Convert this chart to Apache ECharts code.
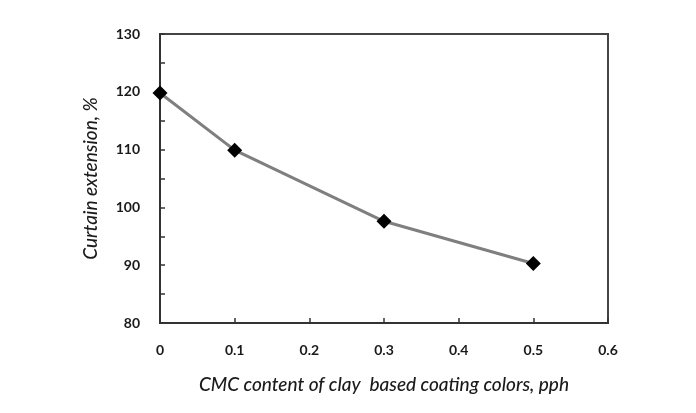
<!DOCTYPE html>
<html>
<head>
<meta charset="utf-8">
<script src="https://cdn.jsdelivr.net/npm/echarts@6/dist/echarts.min.js"></script>
<style>
  html, body { margin: 0; padding: 0; background: #fff; }
  #chart { width: 696px; height: 413px; }
</style>
</head>
<body>
<div id="chart"></div>
<script>
// CMC content (pph) vs curtain extension (%)
const cmcContent = [0, 0.1, 0.3, 0.5];
const curtainExtension = [119.8, 109.9, 97.6, 90.3];
const xTicks = [0, 0.1, 0.2, 0.3, 0.4, 0.5, 0.6];
const yTicks = [80, 90, 100, 110, 120, 130];

const chart = echarts.init(document.getElementById('chart'));

const labelFont = {
  fontFamily: 'Lato',
  fontWeight: 'bold',
  fontSize: 14,
  color: '#1a1a1a'
};
const titleFont = {
  fontFamily: 'Lato',
  fontStyle: 'italic',
  fontWeight: 500,
  fontSize: 19,
  color: '#1a1a1a'
};

chart.setOption({
  animation: false,
  grid: {
    left: 160, right: 88, top: 34, bottom: 90,
    show: true, borderColor: '#444', borderWidth: 2, backgroundColor: 'transparent'
  },
  xAxis: {
    type: 'value',
    min: xTicks[0],
    max: xTicks[xTicks.length - 1],
    interval: 0.1,
    name: 'CMC content of clay  based coating colors, pph',
    nameLocation: 'middle',
    nameGap: 52,
    nameTextStyle: titleFont,
    axisLine: { lineStyle: { color: '#333', width: 2 } },
    axisTick: { inside: true, length: 5, lineStyle: { color: '#333', width: 1.5 } },
    axisLabel: Object.assign({ margin: 20 }, labelFont),
    splitLine: { show: false }
  },
  yAxis: {
    type: 'value',
    min: yTicks[0],
    max: yTicks[yTicks.length - 1],
    interval: 10,
    name: 'Curtain extension, %',
    nameLocation: 'middle',
    nameGap: 60,
    nameTextStyle: titleFont,
    axisLine: { lineStyle: { color: '#333', width: 2 } },
    axisTick: { inside: true, length: 5, lineStyle: { color: '#333', width: 1.5 } },
    minorTick: { show: true, splitNumber: 2, length: 5, lineStyle: { color: '#333', width: 1.5 } },
    axisLabel: Object.assign({ margin: 20 }, labelFont),
    splitLine: { show: false }
  },
  series: [{
    type: 'line',
    data: cmcContent.map((x, i) => [x, curtainExtension[i]]),
    symbol: 'diamond',
    symbolSize: 15,
    itemStyle: { color: '#000' },
    lineStyle: { color: '#7f7f7f', width: 3 }
  }]
});
</script>
</body>
</html>
